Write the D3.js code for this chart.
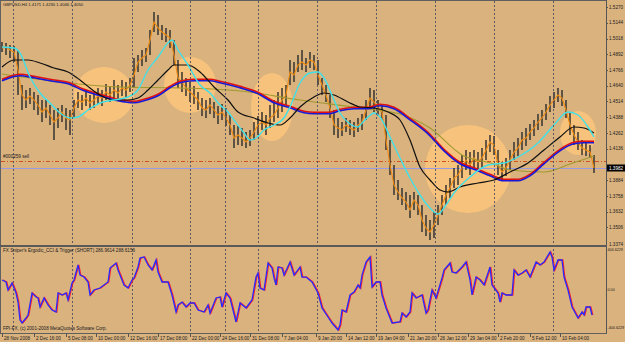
<!DOCTYPE html>
<html><head><meta charset="utf-8">
<script src="https://cdn.jsdelivr.net/npm/d3@7"></script>
<style>html,body{margin:0;padding:0;overflow:hidden;background:#dab27e}svg{display:block}</style>
</head><body><svg id="c" width="625" height="342"></svg>
<script>
// ---------- DATA ----------
const chartTitle = "GBPUSD,H4 1.4171 1.4230 1.4046 1.4050";
const indTitle = "FX Sniper's Ergodic_CCI & Trigger (SHORT) 286.9614 288.6156";
const copyright = "FPI-FX, (c) 2001-2008 MetaQuotes Software Corp.";
const orderLabel = "#000259 sell";
// price samples every 2nd H4 bar
const priceBars = d3.range(0, 297, 2);
const closes = [1.4942,1.4950,1.4926,1.4910,1.4766,1.4566,1.4526,1.4558,1.4526,1.4486,
1.4430,1.4462,1.4406,1.4350,1.4382,1.4430,1.4382,1.4366,1.4462,1.4526,
1.4510,1.4542,1.4502,1.4526,1.4558,1.4542,1.4590,1.4566,1.4606,1.4582,
1.4622,1.4606,1.4646,1.4726,1.4830,1.4862,1.4886,1.5006,1.5150,1.5102,
1.5070,1.5046,1.5022,1.4886,1.4702,1.4670,1.4622,1.4590,1.4558,1.4526,
1.4462,1.4446,1.4486,1.4446,1.4406,1.4430,1.4382,1.4326,1.4222,1.4246,
1.4222,1.4190,1.4222,1.4270,1.4326,1.4350,1.4326,1.4382,1.4406,1.4462,
1.4526,1.4566,1.4750,1.4726,1.4806,1.4830,1.4806,1.4846,1.4830,1.4726,
1.4646,1.4566,1.4462,1.4326,1.4302,1.4286,1.4326,1.4302,1.4286,1.4326,
1.4350,1.4446,1.4542,1.4510,1.4462,1.4430,1.4206,1.4006,1.3846,1.3790,
1.3742,1.3710,1.3646,1.3726,1.3686,1.3566,1.3502,1.3470,1.3526,1.3606,
1.3686,1.3766,1.3822,1.3902,1.3926,1.3982,1.4046,1.4006,1.4062,1.4030,
1.4062,1.4126,1.4190,1.4166,1.4006,1.3950,1.3982,1.4046,1.4110,1.4142,
1.4206,1.4222,1.4270,1.4302,1.4350,1.4382,1.4430,1.4486,1.4526,1.4566,
1.4542,1.4446,1.4326,1.4246,1.4190,1.4142,1.4126,1.4110,1.3982];
const highs = [1.4990,1.4982,1.4966,1.4958,1.4926,1.4646,1.4606,1.4622,1.4590,1.4566,
1.4526,1.4526,1.4486,1.4446,1.4462,1.4486,1.4462,1.4446,1.4526,1.4590,
1.4566,1.4606,1.4566,1.4590,1.4622,1.4606,1.4654,1.4638,1.4686,1.4646,
1.4686,1.4670,1.4702,1.4862,1.4886,1.4926,1.4942,1.5086,1.5230,1.5206,
1.5126,1.5102,1.5086,1.5006,1.4846,1.4750,1.4702,1.4670,1.4638,1.4590,
1.4542,1.4526,1.4542,1.4510,1.4478,1.4494,1.4462,1.4406,1.4326,1.4318,
1.4302,1.4270,1.4286,1.4350,1.4398,1.4430,1.4406,1.4486,1.4526,1.4590,
1.4622,1.4646,1.4846,1.4830,1.4886,1.4926,1.4862,1.4910,1.4886,1.4846,
1.4702,1.4646,1.4566,1.4446,1.4382,1.4350,1.4382,1.4366,1.4350,1.4382,
1.4414,1.4526,1.4622,1.4606,1.4526,1.4494,1.4406,1.4206,1.4006,1.3886,
1.3822,1.3790,1.3766,1.3790,1.3766,1.3686,1.3606,1.3566,1.3630,1.3686,
1.3766,1.3846,1.3902,1.3982,1.4006,1.4086,1.4126,1.4110,1.4126,1.4110,
1.4142,1.4206,1.4246,1.4238,1.4126,1.4030,1.4062,1.4126,1.4190,1.4222,
1.4270,1.4302,1.4334,1.4366,1.4414,1.4446,1.4494,1.4558,1.4590,1.4622,
1.4606,1.4526,1.4430,1.4326,1.4270,1.4206,1.4190,1.4166,1.4086];
const lows = [1.4910,1.4886,1.4862,1.4830,1.4566,1.4446,1.4462,1.4494,1.4446,1.4406,
1.4350,1.4382,1.4326,1.4206,1.4302,1.4350,1.4286,1.4246,1.4382,1.4462,
1.4446,1.4478,1.4446,1.4462,1.4494,1.4478,1.4526,1.4510,1.4542,1.4526,
1.4558,1.4542,1.4590,1.4622,1.4750,1.4798,1.4830,1.4886,1.5070,1.5046,
1.5006,1.4990,1.4942,1.4806,1.4622,1.4590,1.4558,1.4510,1.4494,1.4446,
1.4398,1.4382,1.4414,1.4382,1.4334,1.4366,1.4318,1.4246,1.4142,1.4166,
1.4158,1.4142,1.4158,1.4206,1.4246,1.4286,1.4246,1.4302,1.4350,1.4382,
1.4430,1.4486,1.4646,1.4670,1.4750,1.4766,1.4750,1.4782,1.4766,1.4646,
1.4566,1.4510,1.4382,1.4246,1.4222,1.4238,1.4270,1.4246,1.4230,1.4270,
1.4286,1.4366,1.4462,1.4430,1.4398,1.4366,1.4126,1.3926,1.3766,1.3726,
1.3686,1.3646,1.3582,1.3646,1.3606,1.3470,1.3438,1.3406,1.3422,1.3526,
1.3606,1.3686,1.3742,1.3822,1.3846,1.3902,1.3966,1.3926,1.3982,1.3950,
1.3982,1.4046,1.4110,1.4086,1.3926,1.3886,1.3918,1.3966,1.4046,1.4078,
1.4126,1.4158,1.4206,1.4238,1.4286,1.4318,1.4366,1.4430,1.4462,1.4510,
1.4478,1.4382,1.4246,1.4166,1.4126,1.4086,1.4078,1.4062,1.3942];
// moving averages (bar index, price)
const cyanBars = [0,6,9,14,19,24,29,34,38,43,49,56,63,68,73,78,83,85,88,93,99,104,109,113,116,121,124,127,131,136,141,144,149,154,158,161,166,169,174,178,180,183,186,189,194,199,204,209,214,218,222,226,234,243,251,258,268,276,283,288,293,296];
const cyanVals = [1.4950,1.4942,1.4902,1.4710,1.4582,1.4502,1.4422,1.4382,1.4390,1.4446,1.4502,1.4526,1.4550,1.4606,1.4766,1.4870,1.4982,1.5006,1.4926,1.4806,1.4646,1.4582,1.4486,1.4430,1.4366,1.4262,1.4206,1.4222,1.4286,1.4326,1.4382,1.4470,1.4662,1.4742,1.4750,1.4702,1.4526,1.4422,1.4334,1.4310,1.4342,1.4390,1.4422,1.4390,1.4230,1.4062,1.3902,1.3766,1.3662,1.3614,1.3686,1.3782,1.3910,1.4006,1.4022,1.4070,1.4182,1.4326,1.4430,1.4406,1.4310,1.4230];
const blackBars = [0,6,13,19,26,33,39,44,49,56,63,68,73,78,83,86,93,99,106,113,118,126,133,139,144,149,156,161,166,173,179,186,193,199,204,209,214,219,223,229,238,246,254,263,271,279,286,291,296];
const blackVals = [1.4790,1.4846,1.4846,1.4822,1.4782,1.4750,1.4686,1.4622,1.4566,1.4526,1.4526,1.4542,1.4606,1.4686,1.4766,1.4806,1.4806,1.4750,1.4630,1.4526,1.4430,1.4382,1.4342,1.4326,1.4382,1.4470,1.4550,1.4582,1.4566,1.4510,1.4470,1.4462,1.4430,1.4366,1.4206,1.3990,1.3886,1.3806,1.3790,1.3830,1.3862,1.3886,1.3950,1.4022,1.4126,1.4230,1.4310,1.4302,1.4262];
const slowBars = [0,4,9,16,24,33,41,49,58,66,71,78,84,89,96,104,109,119,128,136,144,151,156,163,169,176,183,189,196,204,213,221,229,238,244,251,258,264,271,279,286,291,296];
const slowVals = [1.4686,1.4710,1.4726,1.4710,1.4686,1.4662,1.4606,1.4566,1.4526,1.4510,1.4526,1.4566,1.4630,1.4670,1.4686,1.4686,1.4670,1.4630,1.4582,1.4510,1.4470,1.4430,1.4422,1.4422,1.4446,1.4462,1.4462,1.4486,1.4462,1.4374,1.4262,1.4126,1.4022,1.3966,1.3926,1.3886,1.3886,1.3926,1.4022,1.4126,1.4182,1.4190,1.4190];
const oliveBars = [0,29,59,89,119,149,179,199,214,230,246,254,271,284,296];
const oliveVals = [1.4734,1.4670,1.4630,1.4622,1.4598,1.4526,1.4462,1.4414,1.4302,1.4086,1.4014,1.3966,1.3950,1.4014,1.4078];
// highlight ellipses
const blobBars = [51,94,135,233,288];
const blobPrices = [1.4566,1.4646,1.4470,1.3974,1.4262];
const blobBarRadius = [15,13,10.5,21.5,9];
const blobPriceRadius = [0.0224,0.0224,0.0272,0.0352,0.0176];
// order / bid
const orderPrice = 1.4038;
const bidPrice = 1.3982;
// ergodic CCI
const ergBars = [0,2,3,5,7,8,9,10,12,13,15,17,18,19,21,23,25,27,28,30,32,33,35,36,38,39,41,43,44,46,49,53,54,57,58,61,63,65,66,68,69,71,73,75,77,78,80,83,85,87,88,90,92,94,96,98,101,103,104,107,109,110,112,114,117,119,122,125,127,128,129,131,133,135,136,137,138,140,141,144,146,149,150,152,155,158,160,163,165,168,169,170,172,174,176,178,179,180,182,184,185,187,189,190,192,195,199,200,202,204,205,207,210,212,213,215,217,220,221,224,225,227,230,232,234,235,237,239,241,244,245,248,249,250,252,255,256,258,260,262,264,266,267,269,271,274,275,276,278,280,281,283,285,288,290,291,292,294,295];
const ergVals = [96,77,0,67,-29,-116,-289,-318,-270,-241,-29,-67,-77,-164,-77,-144,-193,-212,-29,-48,-29,-96,67,96,241,144,125,77,-48,0,19,77,212,260,193,48,19,96,116,222,308,318,241,193,289,173,77,77,-48,-212,-144,-116,-164,-125,-125,-193,-212,-144,-222,-77,-67,-164,-29,-77,-308,-125,-173,-96,125,164,19,0,260,212,116,48,222,212,144,270,144,222,125,125,77,-29,-173,-260,-318,-385,-337,-193,-212,-48,-19,48,19,144,270,318,29,77,77,-48,-173,-318,-308,-222,-260,-212,-29,-77,-48,-222,-193,0,-77,116,193,260,173,164,222,270,96,-48,125,96,48,222,48,-29,-116,-29,-48,-48,193,144,164,193,125,222,270,241,270,366,318,193,289,289,125,0,-164,-270,-212,-241,-164,-164,-241];
const ergMax = 404.6229;
// axes
const priceTicks = [1.5270,1.5144,1.5018,1.4892,1.4766,1.4640,1.4514,1.4388,1.4262,1.4136,1.3884,1.3758,1.3632,1.3506];
const priceMin = 1.3374, priceMax = 1.5318;
const weekSeps = [5.5,35,65,94,111.5,128,157.5,187,216.5,246,275.5];
const timeBars = [0,16,32,47,63,78,94,109,124,140,157,172,187,203,218,233,248,264,279];
const timeLabels = ["28 Nov 2008","2 Dec 16:00","5 Dec 08:00","10 Dec 00:00","12 Dec 16:00","17 Dec 08:00","22 Dec 00:00","24 Dec 16:00","31 Dec 08:00","7 Jan 04:00","9 Jan 20:00","14 Jan 12:00","19 Jan 04:00","21 Jan 20:00","26 Jan 12:00","29 Jan 04:00","2 Feb 20:00","5 Feb 12:00","10 Feb 04:00"];

// ---------- DRAW ----------
const W = 625, H = 342, axisX = 606;
const svg = d3.select('#c');
const defs = svg.append('defs');
svg.append('rect').attr('width',W).attr('height',H).attr('fill','#dab27e');

defs.append('clipPath').attr('id','mainClip').append('rect').attr('x',1).attr('y',1).attr('width',axisX-1).attr('height',243);
defs.append('clipPath').attr('id','indClip').append('rect').attr('x',1).attr('y',247).attr('width',axisX-1).attr('height',85);

const x = d3.scaleLinear().domain([0,296]).range([2,594]);
const y = d3.scaleLinear().domain([priceMin, priceMax]).range([244,1]);
const yi = d3.scaleLinear().domain([-ergMax, ergMax]).range([332,248]);

const font = "'Liberation Sans', Arial, sans-serif";
const main = svg.append('g').attr('clip-path','url(#mainClip)');

// highlight ellipses
main.selectAll('ellipse.blob').data(blobBars).join('ellipse')
  .attr('cx',(d)=>x(d)).attr('cy',(d,i)=>y(blobPrices[i]))
  .attr('rx',(d,i)=>x(d+blobBarRadius[i])-x(d))
  .attr('ry',(d,i)=>y(blobPrices[i]-blobPriceRadius[i])-y(blobPrices[i]))
  .attr('fill','#f7c27c');

// week separators (both panes)
svg.append('g').selectAll('line').data(weekSeps).join('line')
  .attr('x1',d=>Math.round(x(d))+0.5).attr('x2',d=>Math.round(x(d))+0.5)
  .attr('y1',1).attr('y2',333)
  .attr('stroke','#4a4a5c').attr('stroke-width',1).attr('stroke-dasharray','2,2').attr('opacity',0.85);

// order line and bid line
main.append('line').attr('x1',1).attr('x2',axisX).attr('y1',Math.round(y(orderPrice))+0.5).attr('y2',Math.round(y(orderPrice))+0.5)
  .attr('stroke','#d0541a').attr('stroke-width',1).attr('stroke-dasharray','4,2,1,2');
main.append('line').attr('x1',1).attr('x2',axisX).attr('y1',Math.round(y(bidPrice))+0.5).attr('y2',Math.round(y(bidPrice))+0.5)
  .attr('stroke','#9a9ae0').attr('stroke-width',1);
svg.append('text').attr('x',3).attr('y',y(orderPrice)-3).text(orderLabel)
  .attr('font-family',font).attr('font-size',4.6).attr('fill','#202020');

// price bars
const pts = priceBars.map((b,i)=>({b, c:closes[i], h:highs[i], l:lows[i]}));
main.append('g').selectAll('line').data(pts).join('line')
  .attr('x1',d=>x(d.b)).attr('x2',d=>x(d.b)).attr('y1',d=>y(d.h)).attr('y2',d=>y(d.l))
  .attr('stroke','#2a2a2a').attr('stroke-width',1.4);
main.append('path').datum(pts)
  .attr('d',d3.line().x(d=>x(d.b)).y(d=>y(d.c)))
  .attr('fill','none').attr('stroke','#f08a10').attr('stroke-width',1.1);

// moving averages
const maLine = d3.line().x(d=>x(d[0])).y(d=>y(d[1])).curve(d3.curveMonotoneX);
const zip = (a,b)=>a.map((v,i)=>[v,b[i]]);
main.append('path').attr('d',maLine(zip(oliveBars,oliveVals))).attr('fill','none').attr('stroke','#a09a30').attr('stroke-width',1.1);
main.append('path').attr('d',maLine(zip(slowBars,slowVals))).attr('fill','none').attr('stroke','#e01010').attr('stroke-width',1.6).attr('transform','translate(0,-0.7)');
main.append('path').attr('d',maLine(zip(slowBars,slowVals))).attr('fill','none').attr('stroke','#1818d8').attr('stroke-width',1.6).attr('transform','translate(0,0.8)');
main.append('path').attr('d',maLine(zip(blackBars,blackVals))).attr('fill','none').attr('stroke','#101010').attr('stroke-width',1.2);
main.append('path').attr('d',maLine(zip(cyanBars,cyanVals))).attr('fill','none').attr('stroke','#40e0e8').attr('stroke-width',1.4);

// frame
const fr = svg.append('g').attr('shape-rendering','crispEdges');
fr.append('line').attr('x1',0).attr('x2',axisX+1).attr('y1',0.5).attr('y2',0.5).attr('stroke','#606060');
fr.append('line').attr('x1',0.5).attr('x2',0.5).attr('y1',0).attr('y2',333).attr('stroke','#606060');
fr.append('line').attr('x1',axisX+0.5).attr('x2',axisX+0.5).attr('y1',0).attr('y2',334).attr('stroke','#555');
fr.append('rect').attr('x',0).attr('y',245).attr('width',axisX+1).attr('height',2).attr('fill','#5a5a5a');
fr.append('line').attr('x1',0).attr('x2',axisX+1).attr('y1',333.5).attr('y2',333.5).attr('stroke','#606060');

// price axis labels
const lab = svg.append('g').attr('font-family',font).attr('font-size',4.6).attr('fill','#202020');
priceTicks.forEach(p=>{
  const yy = y(p);
  fr.append('line').attr('x1',axisX).attr('x2',axisX+2).attr('y1',Math.round(yy)+0.5).attr('y2',Math.round(yy)+0.5).attr('stroke','#555');
  lab.append('text').attr('x',axisX+3).attr('y',yy+1.6).text(p.toFixed(4));
});
lab.append('text').attr('x',axisX+3).attr('y',244+1.6).text(priceMin.toFixed(4));
// bid box
svg.append('rect').attr('x',axisX+1).attr('y',y(bidPrice)-3.5).attr('width',18).attr('height',7).attr('fill','#000');
svg.append('text').attr('x',axisX+3).attr('y',y(bidPrice)+1.6).text(bidPrice.toFixed(4))
  .attr('font-family',font).attr('font-size',4.6).attr('fill','#fff');

// title texts
lab.append('text').attr('x',3).attr('y',6).text(chartTitle).attr('font-size',4.2);
lab.append('text').attr('x',3).attr('y',252).text(indTitle);
lab.append('text').attr('x',3).attr('y',330).text(copyright);

// indicator
const ind = svg.append('g').attr('clip-path','url(#indClip)');
const ergLine = d3.line().x(d=>x(d[0])).y(d=>yi(d[1]));
const ergPts = zip(ergBars, ergVals);
ind.append('path').attr('d',ergLine(ergPts)).attr('fill','none').attr('stroke','#ff2020').attr('stroke-width',1.3).attr('transform','translate(0.8,0)');
ind.append('path').attr('d',ergLine(ergPts)).attr('fill','none').attr('stroke','#2a2aff').attr('stroke-width',1.3);
// indicator scale labels
[ergMax, 0, -ergMax].forEach(v=>{
  lab.append('text').attr('x',axisX+1.5).attr('y',Math.min(Math.max(yi(v),250),328)+1.4)
    .attr('font-size',3.7)
    .text(v===0?'0.00':v.toFixed(4));
});

// time axis
timeBars.forEach((b,i)=>{
  const xx = Math.round(x(b))+0.5;
  fr.append('line').attr('x1',xx).attr('x2',xx).attr('y1',333).attr('y2',337).attr('stroke','#555');
  lab.append('text').attr('x',xx+1.5).attr('y',339.5).text(timeLabels[i]);
});
</script>
</body></html>
